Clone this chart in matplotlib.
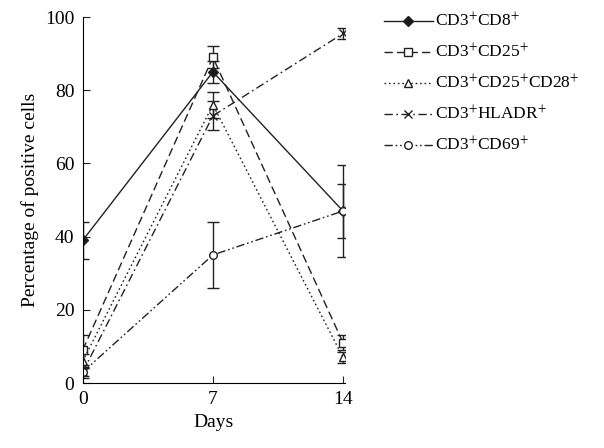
import numpy as np
import matplotlib.pyplot as plt
from matplotlib.lines import Line2D

plt.rcParams['font.family'] = ['Liberation Serif', 'DejaVu Serif']
plt.rcParams['mathtext.fontset'] = 'stix'

# data
days = [0, 7, 14]
sup = r'$^{+}$'
labels = ['CD3' + sup + 'CD8' + sup, 'CD3' + sup + 'CD25' + sup,
          'CD3' + sup + 'CD25' + sup + 'CD28' + sup,
          'CD3' + sup + 'HLADR' + sup, 'CD3' + sup + 'CD69' + sup]
cd8 = [39, 85, 47]
cd8_err = [5, 3, 12.5]
cd25 = [9, 89, 11]
cd25_err = [4, 3, 2]
cd28 = [6, 76, 7]
cd28_err = [2, 3.5, 1.5]
hladr = [3, 73, 95.5]
hladr_err = [1.5, 4, 1.5]
cd69 = [3, 35, 47]
cd69_err = [1, 9, 7.5]

series = [cd8, cd25, cd28, hladr, cd69]
errors = [cd8_err, cd25_err, cd28_err, hladr_err, cd69_err]
styles = [
    dict(ls='-', marker='D', mfc='#1a1a1a', ms=5.5),
    dict(ls=(0, (6, 3)), marker='s', mfc='white', ms=5.5),
    dict(ls=(0, (1.2, 2)), marker='^', mfc='white', ms=5.5),
    dict(ls=(0, (6, 2.5, 1.2, 2.5)), marker='x', mfc='white', ms=5.5),
    dict(ls=(0, (6, 2, 1.2, 2, 1.2, 2)), marker='o', mfc='white', ms=5.5),
]
col = '#222222'

fig = plt.figure(figsize=(6.04, 4.48), dpi=100)
ax = fig.add_axes([0.137, 0.145, 0.434, 0.817])

handles = []
for y, e, st, lab in zip(series, errors, styles, labels):
    ax.errorbar(days, y, yerr=e, color=col, lw=1.0, ecolor=col, elinewidth=1.0,
                capsize=4, capthick=1.0, mec=col, mew=1.0, **st)
    handles.append(Line2D([], [], color=col, lw=1.0, mec=col, mew=1.0, **st))

ax.set_xlim(0, 14.1)
ax.set_ylim(0, 100)
ax.set_xticks([0, 7, 14])
ax.set_yticks(np.arange(0, 101, 20))
ax.spines['top'].set_visible(False)
ax.spines['right'].set_visible(False)
ax.tick_params(direction='in', length=5, labelsize=14, color=col, pad=6)
ax.set_xlabel('Days', fontsize=14, labelpad=4)
ax.set_ylabel('Percentage of positive cells', fontsize=14, labelpad=4)

fig.legend(handles, labels, loc='upper left', bbox_to_anchor=(0.61, 1.008),
           frameon=False, fontsize=12.5, handlelength=2.8, handletextpad=0.15,
           labelspacing=0.72)

fig.savefig('out.png', dpi=100)
